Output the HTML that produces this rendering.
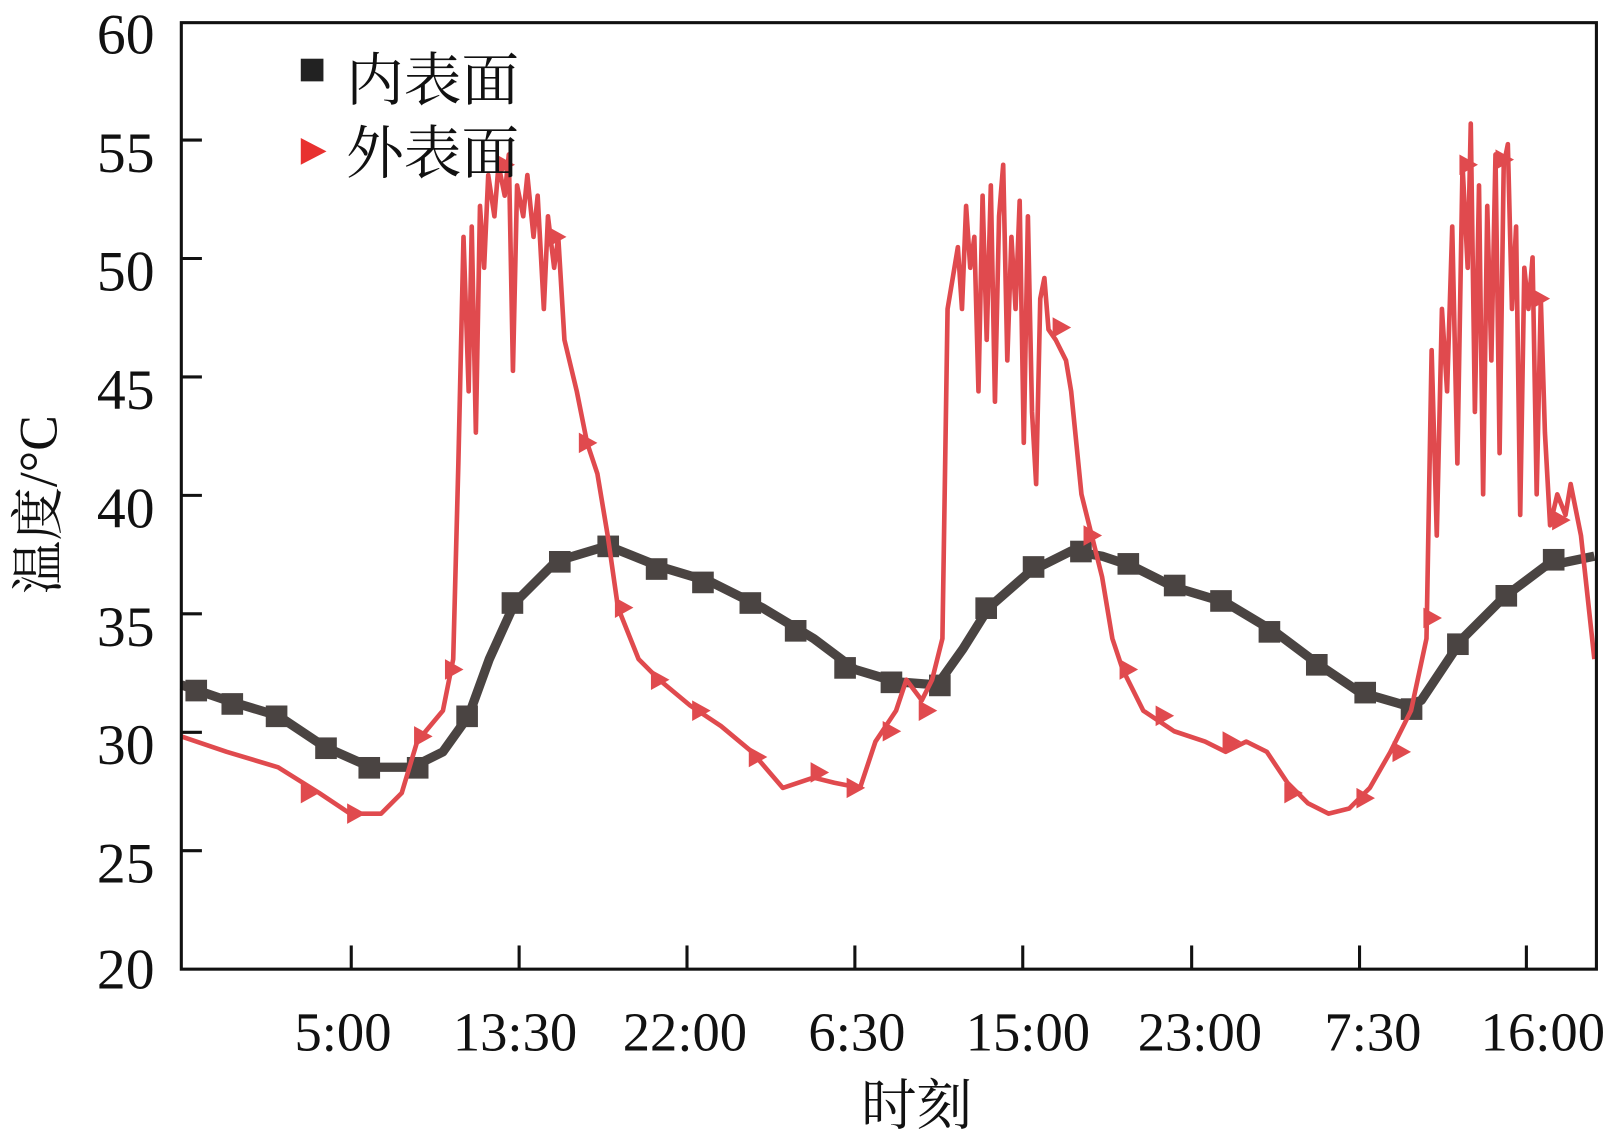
<!DOCTYPE html>
<html><head><meta charset="utf-8"><style>html,body{margin:0;padding:0;background:#fff}svg{display:block}</style></head>
<body>
<svg width="1615" height="1136" viewBox="0 0 1568 1103" xmlns="http://www.w3.org/2000/svg">
<rect width="1568" height="1103" fill="#fff"/>
<g font-family="Liberation Serif, serif" font-size="56" fill="#111" text-anchor="end">
<text x="150" y="52">60</text><text x="150" y="167">55</text><text x="150" y="282">50</text><text x="150" y="397">45</text><text x="150" y="512">40</text><text x="150" y="627">35</text><text x="150" y="742">30</text><text x="150" y="857">25</text><text x="150" y="960">20</text>
</g>
<g font-family="Liberation Serif, serif" font-size="53" fill="#111" text-anchor="middle">
<text x="333" y="1020">5:00</text><text x="500" y="1020">13:30</text><text x="665" y="1020">22:00</text><text x="832" y="1020">6:30</text><text x="998" y="1020">15:00</text><text x="1165" y="1020">23:00</text><text x="1333" y="1020">7:30</text><text x="1498" y="1020">16:00</text>
</g>
<text x="890" y="1092" font-family="Liberation Serif, 'Noto Serif CJK SC', serif" font-size="54" text-anchor="middle" fill="#111">时刻</text>
<text transform="translate(55,490) rotate(-90)" font-family="Liberation Serif, 'Noto Serif CJK SC', serif" font-size="52" text-anchor="middle" fill="#111">温度/°C</text>
<g stroke="#111" stroke-width="3">
<line x1="176" y1="136" x2="196" y2="136"/><line x1="176" y1="251" x2="196" y2="251"/><line x1="176" y1="366" x2="196" y2="366"/><line x1="176" y1="481" x2="196" y2="481"/><line x1="176" y1="596" x2="196" y2="596"/><line x1="176" y1="711" x2="196" y2="711"/><line x1="176" y1="826" x2="196" y2="826"/>
<line x1="341" y1="941" x2="341" y2="918"/><line x1="504" y1="941" x2="504" y2="918"/><line x1="667" y1="941" x2="667" y2="918"/><line x1="830" y1="941" x2="830" y2="918"/><line x1="993" y1="941" x2="993" y2="918"/><line x1="1157" y1="941" x2="1157" y2="918"/><line x1="1320" y1="941" x2="1320" y2="918"/><line x1="1482" y1="941" x2="1482" y2="918"/>
</g>
<polyline fill="none" stroke="#4a4442" stroke-width="9" stroke-linejoin="round" points="176,665 220,680 270,695 315,725 360,745 400,745 430,730 455,695 475,640 500,585 540,545 590,530 640,550 690,565 740,590 790,620 830,650 870,662 910,665 935,630 960,590 1000,555 1040,535 1070,540 1100,550 1140,570 1190,585 1240,615 1280,645 1320,672 1365,685 1380,680 1400,650 1420,620 1460,580 1500,550 1548,540"/>
<g fill="#4a4442">
<rect x="180" y="660" width="21" height="21"/><rect x="215" y="673" width="21" height="21"/><rect x="258" y="685" width="21" height="21"/><rect x="306" y="716" width="21" height="21"/><rect x="348" y="735" width="21" height="21"/><rect x="395" y="735" width="21" height="21"/><rect x="443" y="685" width="21" height="21"/><rect x="487" y="575" width="21" height="21"/><rect x="533" y="535" width="21" height="21"/><rect x="580" y="520" width="21" height="21"/><rect x="627" y="542" width="21" height="21"/><rect x="672" y="555" width="21" height="21"/><rect x="718" y="575" width="21" height="21"/><rect x="762" y="602" width="21" height="21"/><rect x="810" y="638" width="21" height="21"/><rect x="855" y="652" width="21" height="21"/><rect x="902" y="655" width="21" height="21"/><rect x="947" y="580" width="21" height="21"/><rect x="993" y="540" width="21" height="21"/><rect x="1039" y="525" width="21" height="21"/><rect x="1085" y="537" width="21" height="21"/><rect x="1130" y="558" width="21" height="21"/><rect x="1175" y="573" width="21" height="21"/><rect x="1222" y="603" width="21" height="21"/><rect x="1268" y="635" width="21" height="21"/><rect x="1315" y="662" width="21" height="21"/><rect x="1360" y="678" width="21" height="21"/><rect x="1405" y="615" width="21" height="21"/><rect x="1452" y="568" width="21" height="21"/><rect x="1498" y="533" width="21" height="21"/>
</g>
<polyline fill="none" stroke="#e04a4e" stroke-width="4.5" stroke-linejoin="round" points="176,715 220,730 270,745 310,770 340,790 370,790 390,770 405,720 430,690 440,640 445,450 450,230 455,380 458,220 462,420 466,200 470,260 474,170 480,210 484,160 490,190 494,150 498,360 502,180 508,210 512,170 518,230 522,190 528,300 532,210 538,260 542,230 548,330 560,380 570,430 580,460 590,520 600,590 620,640 640,660 670,685 700,705 730,730 760,765 790,755 810,760 835,765 850,720 870,690 880,660 895,680 905,660 915,620 920,300 925,270 930,240 934,300 938,200 942,260 946,230 950,380 954,190 958,330 962,180 966,390 970,210 974,160 978,350 982,230 986,300 990,195 994,430 998,210 1002,400 1006,470 1010,290 1014,270 1018,320 1025,330 1035,350 1040,380 1050,480 1060,520 1070,560 1080,620 1090,650 1110,690 1140,710 1170,720 1190,730 1210,720 1230,730 1250,760 1270,780 1290,790 1310,785 1330,765 1350,730 1370,690 1385,620 1390,340 1395,520 1400,300 1405,380 1410,220 1415,450 1420,160 1425,260 1428,120 1432,400 1436,180 1440,480 1444,200 1448,350 1452,150 1456,440 1460,160 1464,140 1468,300 1472,220 1476,500 1480,260 1484,300 1488,250 1492,480 1496,290 1500,420 1505,510 1512,480 1520,500 1525,470 1535,520 1548,640"/>
<g fill="#e04a4e">
<path d="M292,760 l18,10 l-18,10z"/><path d="M337,780 l18,10 l-18,10z"/><path d="M402,705 l18,10 l-18,10z"/><path d="M432,640 l18,10 l-18,10z"/><path d="M482,150 l18,10 l-18,10z"/><path d="M532,220 l18,10 l-18,10z"/><path d="M562,420 l18,10 l-18,10z"/><path d="M597,580 l18,10 l-18,10z"/><path d="M632,650 l18,10 l-18,10z"/><path d="M672,680 l18,10 l-18,10z"/><path d="M727,725 l18,10 l-18,10z"/><path d="M787,740 l18,10 l-18,10z"/><path d="M822,755 l18,10 l-18,10z"/><path d="M857,700 l18,10 l-18,10z"/><path d="M892,680 l18,10 l-18,10z"/><path d="M1022,308 l18,10 l-18,10z"/><path d="M1052,510 l18,10 l-18,10z"/><path d="M1087,640 l18,10 l-18,10z"/><path d="M1122,685 l18,10 l-18,10z"/><path d="M1187,710 l18,10 l-18,10z"/><path d="M1247,760 l18,10 l-18,10z"/><path d="M1317,765 l18,10 l-18,10z"/><path d="M1352,720 l18,10 l-18,10z"/><path d="M1382,590 l18,10 l-18,10z"/><path d="M1417,150 l18,10 l-18,10z"/><path d="M1452,145 l18,10 l-18,10z"/><path d="M1487,280 l18,10 l-18,10z"/><path d="M1507,495 l18,10 l-18,10z"/>
</g>
<rect x="176" y="22" width="1374" height="919" fill="none" stroke="#111" stroke-width="3"/>
<rect x="292" y="57" width="22" height="22" fill="#222"/>
<path d="M292,134 l25,13 l-25,13z" fill="#e8302f"/>
<g font-family="Liberation Serif, 'Noto Serif CJK SC', serif" font-size="56" fill="#111">
<text x="336" y="97">内表面</text><text x="336" y="168">外表面</text>
</g>
</svg>
</body></html>
